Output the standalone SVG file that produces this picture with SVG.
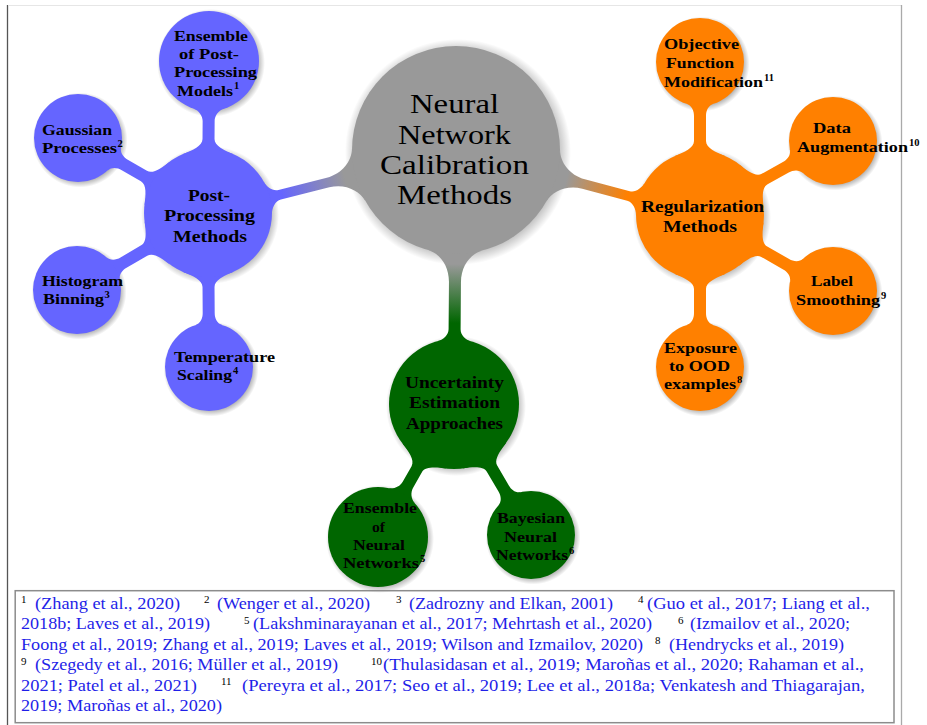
<svg xmlns="http://www.w3.org/2000/svg" width="927" height="725" viewBox="0 0 927 725" font-family="Liberation Serif, serif">
<defs>
<style>
.bl{fill:#6565ff}.or{fill:#ff8000}.gr{fill:#006600}.ce{fill:#999999}
.sh{fill:url(#shd)}
.t0{font-size:27.5px;fill:#000}
.t1{font-weight:bold;font-size:17px;fill:#000}
.t2{font-weight:bold;font-size:15px;fill:#000}
.su{font-weight:bold;font-size:10.5px;fill:#000}
.fn{font-size:16px;fill:#1f1fe8}
.fs{font-size:11px;fill:#000}
</style>
<radialGradient id="shd">
<stop offset="0" stop-color="#000" stop-opacity="0.35"/>
<stop offset="0.87" stop-color="#000" stop-opacity="0.28"/>
<stop offset="1" stop-color="#000" stop-opacity="0"/>
</radialGradient>
<linearGradient id="gB" x1="0" y1="0" x2="1" y2="0"><stop offset="0.15" stop-color="#999999"/><stop offset="0.85" stop-color="#6565ff"/></linearGradient>
<linearGradient id="gO" x1="0" y1="0" x2="1" y2="0"><stop offset="0.15" stop-color="#999999"/><stop offset="0.85" stop-color="#ff8000"/></linearGradient>
<linearGradient id="gG" x1="0" y1="0" x2="1" y2="0"><stop offset="0.15" stop-color="#999999"/><stop offset="0.8" stop-color="#006600"/></linearGradient>
</defs>

<g id="frame">
<line x1="7.5" y1="5" x2="7.5" y2="725" stroke="#555" stroke-width="1.3"/>
<line x1="8" y1="5.5" x2="901" y2="5.5" stroke="#e6e6e6" stroke-width="1"/>
<line x1="901.5" y1="5" x2="901.5" y2="725" stroke="#aaa" stroke-width="1.3"/>
</g>

<g id="shadows">
<circle class="sh" cx="458" cy="152" r="113"/>
<circle class="sh" cx="210" cy="215" r="69"/>
<circle class="sh" cx="702" cy="217" r="69"/>
<circle class="sh" cx="456" cy="406" r="70"/>
<circle class="sh" cx="211" cy="63" r="54"/>
<circle class="sh" cx="80" cy="140" r="47.5"/>
<circle class="sh" cx="79" cy="292" r="47.5"/>
<circle class="sh" cx="211" cy="369" r="47.5"/>
<circle class="sh" cx="702" cy="64" r="47.5"/>
<circle class="sh" cx="835" cy="143" r="47.5"/>
<circle class="sh" cx="835" cy="293" r="47.5"/>
<circle class="sh" cx="702" cy="369" r="47.5"/>
<circle class="sh" cx="380" cy="539" r="54"/>
<circle class="sh" cx="533" cy="537" r="47.5"/>
</g>

<g id="connectors">
<path fill="url(#gB)" transform="translate(456,150) rotate(165.75)" d="M100.5,-26.9 C103.6,-15.3 116,-5 132,-5 L181.9,-5 C187.9,-5 192.5,-10.8 194.1,-16.6 L194.1,16.6 C192.5,10.8 187.9,5 181.9,5 L132,5 C116,5 103.6,15.3 100.5,26.9Z"/>
<path fill="url(#gO)" transform="translate(456,150) rotate(14.92)" d="M100.5,-26.9 C103.6,-15.3 116,-5 132,-5 L178.5,-5 C184.5,-5 189.1,-10.8 190.7,-16.6 L190.7,16.6 C189.1,10.8 184.5,5 178.5,5 L132,5 C116,5 103.6,15.3 100.5,26.9Z"/>
<path fill="url(#gG)" transform="translate(456,150) rotate(90.45)" d="M100.5,-26.9 C103.6,-15.3 116,-6 132,-6 L179,-6 C185,-6 189.7,-11 191.2,-16.8 L191.2,16.8 C189.7,11 185,6 179,6 L132,6 C116,6 103.6,15.3 100.5,26.9Z"/>

<path class="bl" transform="translate(208,213) rotate(-89.6)" d="M58.9,-25 C62.8,-15.8 67,-6 74,-6 L92,-6 C97,-6 102.6,-9.7 104.5,-15.5 L104.5,15.5 C102.6,9.7 97,6 92,6 L74,6 C67,6 62.8,15.8 58.9,25Z"/>
<path class="bl" transform="translate(208,213) rotate(-150)" d="M58.9,-25 C62.8,-15.8 67,-6 74,-6 L96.1,-6 C101.1,-6 106.4,-7.9 108.3,-13.6 L108.3,13.6 C106.4,7.9 101.1,6 96.1,6 L74,6 C67,6 62.8,15.8 58.9,25Z"/>
<path class="bl" transform="translate(208,213) rotate(149.55)" d="M58.9,-25 C62.8,-15.8 67,-6 74,-6 L98,-6 C103,-6 108.3,-7.9 110.1,-13.6 L110.1,13.6 C108.3,7.9 103,6 98,6 L74,6 C67,6 62.8,15.8 58.9,25Z"/>
<path class="bl" transform="translate(208,213) rotate(89.6)" d="M58.9,-25 C62.8,-15.8 67,-6 74,-6 L100,-6 C105,-6 110.3,-7.9 112.2,-13.6 L112.2,13.6 C110.3,7.9 105,6 100,6 L74,6 C67,6 62.8,15.8 58.9,25Z"/>

<path class="or" transform="translate(700,215) rotate(-90)" d="M58.9,-25 C62.8,-15.8 67,-6 74,-6 L99,-6 C104,-6 109.3,-7.9 111.2,-13.6 L111.2,13.6 C109.3,7.9 104,6 99,6 L74,6 C67,6 62.8,15.8 58.9,25Z"/>
<path class="or" transform="translate(700,215) rotate(-29.09)" d="M58.9,-25 C62.8,-15.8 67,-6 74,-6 L98.2,-6 C103.2,-6 108.5,-7.9 110.4,-13.6 L110.4,13.6 C108.5,7.9 103.2,6 98.2,6 L74,6 C67,6 62.8,15.8 58.9,25Z"/>
<path class="or" transform="translate(700,215) rotate(29.74)" d="M58.9,-25 C62.8,-15.8 67,-6 74,-6 L99.2,-6 C104.2,-6 109.5,-7.9 111.4,-13.6 L111.4,13.6 C109.5,7.9 104.2,6 99.2,6 L74,6 C67,6 62.8,15.8 58.9,25Z"/>
<path class="or" transform="translate(700,215) rotate(90)" d="M58.9,-25 C62.8,-15.8 67,-6 74,-6 L98,-6 C103,-6 108.3,-7.9 110.2,-13.6 L110.2,13.6 C108.3,7.9 103,6 98,6 L74,6 C67,6 62.8,15.8 58.9,25Z"/>

<path class="gr" transform="translate(454,404) rotate(119.74)" d="M59.8,-25.4 C63.7,-16.2 68,-6 75,-6 L93.2,-6 C98.2,-6 103.8,-9.7 105.7,-15.5 L105.7,15.5 C103.8,9.7 98.2,6 93.2,6 L75,6 C68,6 63.7,16.2 59.8,25.4Z"/>
<path class="gr" transform="translate(454,404) rotate(59.55)" d="M59.8,-25.4 C63.7,-16.2 68,-6 75,-6 L98,-6 C103,-6 108.3,-7.9 110.1,-13.6 L110.1,13.6 C108.3,7.9 103,6 98,6 L75,6 C68,6 63.7,16.2 59.8,25.4Z"/>
</g>

<g id="central">
<circle class="ce" cx="456" cy="150" r="104"/>
<text class="t0" x="410" y="113.3" textLength="89" lengthAdjust="spacingAndGlyphs">Neural</text>
<text class="t0" x="398" y="143.5" textLength="113" lengthAdjust="spacingAndGlyphs">Network</text>
<text class="t0" x="380" y="173.7" textLength="149" lengthAdjust="spacingAndGlyphs">Calibration</text>
<text class="t0" x="397" y="204" textLength="115" lengthAdjust="spacingAndGlyphs">Methods</text>
</g>

<g id="post-processing">
<circle class="bl" cx="208" cy="213" r="64"/>
<text class="t1" x="188" y="200.5" textLength="42" lengthAdjust="spacingAndGlyphs">Post-</text>
<text class="t1" x="164" y="221" textLength="91" lengthAdjust="spacingAndGlyphs">Processing</text>
<text class="t1" x="173" y="241.5" textLength="74" lengthAdjust="spacingAndGlyphs">Methods</text>
</g>
<g id="ensemble-post">
<circle class="bl" cx="209" cy="61" r="50"/>
<text class="t2" x="174" y="40.7" textLength="74" lengthAdjust="spacingAndGlyphs">Ensemble</text>
<text class="t2" x="179" y="59" textLength="60" lengthAdjust="spacingAndGlyphs">of Post-</text>
<text class="t2" x="174" y="77.3" textLength="83" lengthAdjust="spacingAndGlyphs">Processing</text>
<text class="t2" x="177" y="95.7" textLength="56" lengthAdjust="spacingAndGlyphs">Models</text>
<text class="su" x="234" y="89">1</text>
</g>
<g id="gaussian">
<circle class="bl" cx="78" cy="138" r="44"/>
<text class="t2" x="42" y="135" textLength="70" lengthAdjust="spacingAndGlyphs">Gaussian</text>
<text class="t2" x="42" y="153.3" textLength="75" lengthAdjust="spacingAndGlyphs">Processes</text>
<text class="su" x="117.5" y="147">2</text>
</g>
<g id="histogram">
<circle class="bl" cx="77" cy="290" r="44"/>
<text class="t2" x="42" y="286.3" textLength="81" lengthAdjust="spacingAndGlyphs">Histogram</text>
<text class="t2" x="43" y="304.3" textLength="61" lengthAdjust="spacingAndGlyphs">Binning</text>
<text class="su" x="104.5" y="298">3</text>
</g>
<g id="temperature">
<circle class="bl" cx="209" cy="367" r="44"/>
<text class="t2" x="174" y="362" textLength="101" lengthAdjust="spacingAndGlyphs">Temperature</text>
<text class="t2" x="177" y="380.3" textLength="55" lengthAdjust="spacingAndGlyphs">Scaling</text>
<text class="su" x="233" y="374">4</text>
</g>

<g id="regularization">
<circle class="or" cx="700" cy="215" r="64"/>
<text class="t1" x="641" y="211.5" textLength="123" lengthAdjust="spacingAndGlyphs">Regularization</text>
<text class="t1" x="663" y="232" textLength="74" lengthAdjust="spacingAndGlyphs">Methods</text>
</g>
<g id="objective">
<circle class="or" cx="700" cy="62" r="44"/>
<text class="t2" x="664" y="49.3" textLength="75" lengthAdjust="spacingAndGlyphs">Objective</text>
<text class="t2" x="666" y="68" textLength="68" lengthAdjust="spacingAndGlyphs">Function</text>
<text class="t2" x="664" y="86.7" textLength="99" lengthAdjust="spacingAndGlyphs">Modification</text>
<text class="su" x="764" y="80.5">11</text>
</g>
<g id="data-augmentation">
<circle class="or" cx="833" cy="141" r="44"/>
<text class="t2" x="813" y="133.3" textLength="38" lengthAdjust="spacingAndGlyphs">Data</text>
<text class="t2" x="797" y="152" textLength="111" lengthAdjust="spacingAndGlyphs">Augmentation</text>
<text class="su" x="909" y="145.5">10</text>
</g>
<g id="label-smoothing">
<circle class="or" cx="833" cy="291" r="44"/>
<text class="t2" x="811" y="286.3" textLength="42" lengthAdjust="spacingAndGlyphs">Label</text>
<text class="t2" x="796" y="304.7" textLength="84" lengthAdjust="spacingAndGlyphs">Smoothing</text>
<text class="su" x="881" y="298.5">9</text>
</g>
<g id="exposure-ood">
<circle class="or" cx="700" cy="367" r="44"/>
<text class="t2" x="664" y="353" textLength="73" lengthAdjust="spacingAndGlyphs">Exposure</text>
<text class="t2" x="669" y="371.3" textLength="61" lengthAdjust="spacingAndGlyphs">to OOD</text>
<text class="t2" x="664" y="389.3" textLength="72" lengthAdjust="spacingAndGlyphs">examples</text>
<text class="su" x="737" y="383">8</text>
</g>

<g id="uncertainty">
<circle class="gr" cx="454" cy="404" r="65"/>
<text class="t1" x="405" y="387.5" textLength="99" lengthAdjust="spacingAndGlyphs">Uncertainty</text>
<text class="t1" x="409" y="408" textLength="91" lengthAdjust="spacingAndGlyphs">Estimation</text>
<text class="t1" x="406" y="428.5" textLength="97" lengthAdjust="spacingAndGlyphs">Approaches</text>
</g>
<g id="ensemble-nn">
<circle class="gr" cx="378" cy="537" r="50"/>
<text class="t2" x="343" y="513.3" textLength="74" lengthAdjust="spacingAndGlyphs">Ensemble</text>
<text class="t2" x="372" y="532" textLength="13" lengthAdjust="spacingAndGlyphs">of</text>
<text class="t2" x="353" y="550" textLength="52" lengthAdjust="spacingAndGlyphs">Neural</text>
<text class="t2" x="343" y="568.3" textLength="76" lengthAdjust="spacingAndGlyphs">Networks</text>
<text class="su" x="420" y="562">5</text>
</g>
<g id="bayesian-nn">
<circle class="gr" cx="531" cy="535" r="44"/>
<text class="t2" x="497" y="523" textLength="68" lengthAdjust="spacingAndGlyphs">Bayesian</text>
<text class="t2" x="504" y="542" textLength="53" lengthAdjust="spacingAndGlyphs">Neural</text>
<text class="t2" x="496" y="560" textLength="72" lengthAdjust="spacingAndGlyphs">Networks</text>
<text class="su" x="569" y="554">6</text>
</g>

<g id="footnotes">
<rect x="15.2" y="590.7" width="878.8" height="132" fill="none" stroke="#8c8c8c" stroke-width="1.5"/>
<text class="fs" x="21" y="603">1</text>
<text class="fn" x="35" y="608.5" textLength="145" lengthAdjust="spacingAndGlyphs">(Zhang et al., 2020)</text>
<text class="fs" x="204" y="603">2</text>
<text class="fn" x="217" y="608.5" textLength="153" lengthAdjust="spacingAndGlyphs">(Wenger et al., 2020)</text>
<text class="fs" x="396" y="603">3</text>
<text class="fn" x="409" y="608.5" textLength="204" lengthAdjust="spacingAndGlyphs">(Zadrozny and Elkan, 2001)</text>
<text class="fs" x="638" y="603">4</text>
<text class="fn" x="647" y="608.5" textLength="223" lengthAdjust="spacingAndGlyphs">(Guo et al., 2017; Liang et al.,</text>

<text class="fn" x="21" y="629" textLength="189" lengthAdjust="spacingAndGlyphs">2018b; Laves et al., 2019)</text>
<text class="fs" x="244" y="623.5">5</text>
<text class="fn" x="253" y="629" textLength="399" lengthAdjust="spacingAndGlyphs">(Lakshminarayanan et al., 2017; Mehrtash et al., 2020)</text>
<text class="fs" x="678" y="623.5">6</text>
<text class="fn" x="690" y="629" textLength="160" lengthAdjust="spacingAndGlyphs">(Izmailov et al., 2020;</text>

<text class="fn" x="21" y="649.5" textLength="622" lengthAdjust="spacingAndGlyphs">Foong et al., 2019; Zhang et al., 2019; Laves et al., 2019; Wilson and Izmailov, 2020)</text>
<text class="fs" x="655" y="644">8</text>
<text class="fn" x="669" y="649.5" textLength="175" lengthAdjust="spacingAndGlyphs">(Hendrycks et al., 2019)</text>

<text class="fs" x="21" y="664.5">9</text>
<text class="fn" x="35" y="670" textLength="303" lengthAdjust="spacingAndGlyphs">(Szegedy et al., 2016; Müller et al., 2019)</text>
<text class="fs" x="371" y="664.5">10</text>
<text class="fn" x="383" y="670" textLength="481" lengthAdjust="spacingAndGlyphs">(Thulasidasan et al., 2019; Maroñas et al., 2020; Rahaman et al.,</text>

<text class="fn" x="21" y="690.5" textLength="176" lengthAdjust="spacingAndGlyphs">2021; Patel et al., 2021)</text>
<text class="fs" x="221" y="685">11</text>
<text class="fn" x="242" y="690.5" textLength="623" lengthAdjust="spacingAndGlyphs">(Pereyra et al., 2017; Seo et al., 2019; Lee et al., 2018a; Venkatesh and Thiagarajan,</text>

<text class="fn" x="21" y="711" textLength="201" lengthAdjust="spacingAndGlyphs">2019; Maroñas et al., 2020)</text>
</g>
</svg>
